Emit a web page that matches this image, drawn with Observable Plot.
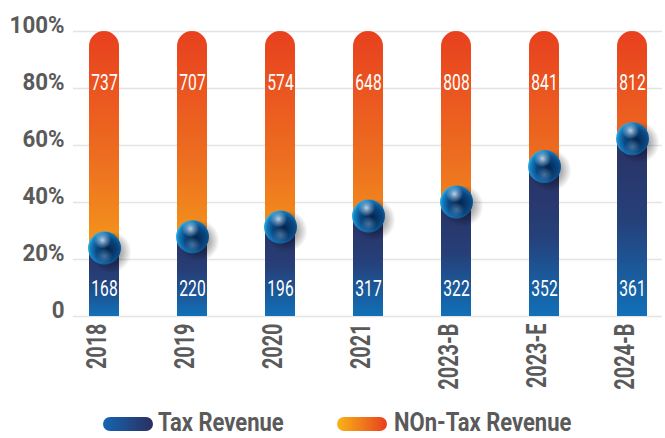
<!DOCTYPE html>
<html>
<head>
<meta charset="utf-8">
<script src="https://cdn.jsdelivr.net/npm/d3@7"></script>
<script src="https://cdn.jsdelivr.net/npm/@observablehq/plot@0.6"></script>
<style>
  html, body { margin: 0; padding: 0; background: #fff; overflow: hidden; }
  #chart svg, #legend svg { display: block; }
</style>
</head>
<body>
<div id="chart"></div>
<div id="legend"></div>
<script>
const categories = ["2018", "2019", "2020", "2021", "2023-B", "2023-E", "2024-B"];
const taxRevenue = [168, 220, 196, 317, 322, 352, 361];
const nonTaxRevenue = [737, 707, 574, 648, 808, 841, 812];
// boundary between the two segments, as drawn in the picture (% of bar height)
const taxShare = [24, 28, 31.4, 35.3, 40.2, 52.6, 62.4];
const yTicks = [0, 20, 40, 60, 80, 100];
const seriesNames = ["Tax Revenue", "NOn-Tax Revenue"];

const rows = categories.map((c, i) => ({year: c, tax: taxRevenue[i], nonTax: nonTaxRevenue[i], share: taxShare[i]}));

const FONT = 'Roboto, "Noto Sans", sans-serif';

const chart = Plot.plot({
  width: 665,
  height: 400,
  marginTop: 31,
  marginBottom: 84,
  marginLeft: 73,
  marginRight: 3,
  x: {domain: categories, paddingInner: 0.663, paddingOuter: 0.146, axis: null},
  y: {domain: [0, 100], axis: null},
  marks: [
    Plot.ruleY(yTicks, {stroke: "#e4e4e4", strokeWidth: 1.6}),
    Plot.text(yTicks, {
      y: d => d, frameAnchor: "left", text: d => d === 0 ? "0" : d + "%",
      textAnchor: "end", lineAnchor: "bottom", dx: -9, dy: 1,
      fontFamily: FONT, fontWeight: "bold", fontSize: 24, fill: "#5a5a5a"
    }),
    Plot.barY(rows, {x: "year", y1: 0, y2: 100, fill: "url(#orangeGrad)", rx: 15}),
    Plot.barY(rows, {x: "year", y1: 0, y2: "share", fill: "url(#blueGrad)"}),
    Plot.text(rows, {x: "year", y: () => 82, text: "nonTax", fill: "white", fontFamily: FONT, fontSize: 22}),
    Plot.text(rows, {x: "year", y: () => 9.8, text: "tax", fill: "white", fontFamily: FONT, fontSize: 22}),
    // ball shadow
    Plot.dot(rows, {x: "year", y: "share", r: 21, fill: "url(#shadowGrad)", stroke: null, dx: 6, dy: 4}),
    // ball body
    Plot.dot(rows, {x: "year", y: "share", r: 16.5, fill: "url(#ballGrad)", stroke: null}),
    // lower reflection
    Plot.dot(rows, {x: "year", y: "share", r: 8, fill: "url(#reflGrad)", stroke: null, dx: 0, dy: 8}),
    // top specular highlight
    Plot.dot(rows, {x: "year", y: "share", r: 8.5, fill: "url(#specGrad)", stroke: null, dx: -2, dy: -8}),
    Plot.text(categories, {
      x: d => d, frameAnchor: "bottom", rotate: -90, textAnchor: "end", dy: 7, dx: 1,
      fontFamily: FONT, fontWeight: "bold", fontSize: 28, fill: "#5a5a5a"
    })
  ]
});

const defs = d3.select(chart).insert("defs", ":first-child");
const og = defs.append("linearGradient").attr("id", "orangeGrad")
  .attr("gradientUnits", "userSpaceOnUse").attr("x1", 0).attr("x2", 0).attr("y1", 31).attr("y2", 316);
og.append("stop").attr("offset", 0).attr("stop-color", "#e8401f");
og.append("stop").attr("offset", 0.45).attr("stop-color", "#ed6e20");
og.append("stop").attr("offset", 1).attr("stop-color", "#f9b518");
const bg = defs.append("linearGradient").attr("id", "blueGrad").attr("x1", 0).attr("x2", 0).attr("y1", 0).attr("y2", 1);
bg.append("stop").attr("offset", 0).attr("stop-color", "#2a3264");
bg.append("stop").attr("offset", 0.45).attr("stop-color", "#263f78");
bg.append("stop").attr("offset", 1).attr("stop-color", "#1170b8");
const ball = defs.append("radialGradient").attr("id", "ballGrad").attr("cx", 0.6).attr("cy", 0.55).attr("r", 0.62);
ball.append("stop").attr("offset", 0).attr("stop-color", "#04234a");
ball.append("stop").attr("offset", 0.55).attr("stop-color", "#0a4883");
ball.append("stop").attr("offset", 0.85).attr("stop-color", "#157fc0");
ball.append("stop").attr("offset", 1).attr("stop-color", "#38bde9");
const spec = defs.append("radialGradient").attr("id", "specGrad");
spec.append("stop").attr("offset", 0).attr("stop-color", "#ffffff").attr("stop-opacity", 0.75);
spec.append("stop").attr("offset", 0.6).attr("stop-color", "#cfeaff").attr("stop-opacity", 0.3);
spec.append("stop").attr("offset", 1).attr("stop-color", "#ffffff").attr("stop-opacity", 0);
const refl = defs.append("radialGradient").attr("id", "reflGrad");
refl.append("stop").attr("offset", 0).attr("stop-color", "#9fc4e6").attr("stop-opacity", 0.4);
refl.append("stop").attr("offset", 1).attr("stop-color", "#9fc4e6").attr("stop-opacity", 0);
const sh = defs.append("radialGradient").attr("id", "shadowGrad");
sh.append("stop").attr("offset", 0).attr("stop-color", "#000").attr("stop-opacity", 0.55);
sh.append("stop").attr("offset", 0.55).attr("stop-color", "#000").attr("stop-opacity", 0.3);
sh.append("stop").attr("offset", 1).attr("stop-color", "#000").attr("stop-opacity", 0);

document.getElementById("chart").appendChild(chart);

// legend (below the plot SVG)
const leg = d3.select("#legend").append("svg").attr("width", 665).attr("height", 38);
const lg = leg.append("defs");
const lb = lg.append("linearGradient").attr("id", "legBlue");
lb.append("stop").attr("offset", 0).attr("stop-color", "#1566b2");
lb.append("stop").attr("offset", 1).attr("stop-color", "#2a2f60");
const lo = lg.append("linearGradient").attr("id", "legOrange");
lo.append("stop").attr("offset", 0).attr("stop-color", "#f9b418");
lo.append("stop").attr("offset", 1).attr("stop-color", "#e8401f");
const legItems = [
  {name: seriesNames[0], fill: "url(#legBlue)", px: 103, tx: 158},
  {name: seriesNames[1], fill: "url(#legOrange)", px: 337, tx: 394}
];
legItems.forEach(it => {
  leg.append("rect").attr("x", it.px).attr("y", 17).attr("width", 50).attr("height", 14)
    .attr("rx", 7).attr("fill", it.fill);
  leg.append("text").attr("x", it.tx).attr("y", 31).text(it.name)
    .attr("font-family", FONT).attr("font-weight", "bold").attr("font-size", 25)
    .attr("fill", "#5a5a5a");
});

// condense the text to mimic the narrow typeface of the original
const squeeze = {"24px": 0.93, "22px": 0.71, "28px": 0.71, "25px": 0.88};
d3.selectAll("svg text").each(function () {
  const k = squeeze[getComputedStyle(this).fontSize];
  if (!k) return;
  const w = this.getComputedTextLength();
  this.setAttribute("textLength", (w * k).toFixed(1));
  this.setAttribute("lengthAdjust", "spacingAndGlyphs");
});
</script>
</body>
</html>
